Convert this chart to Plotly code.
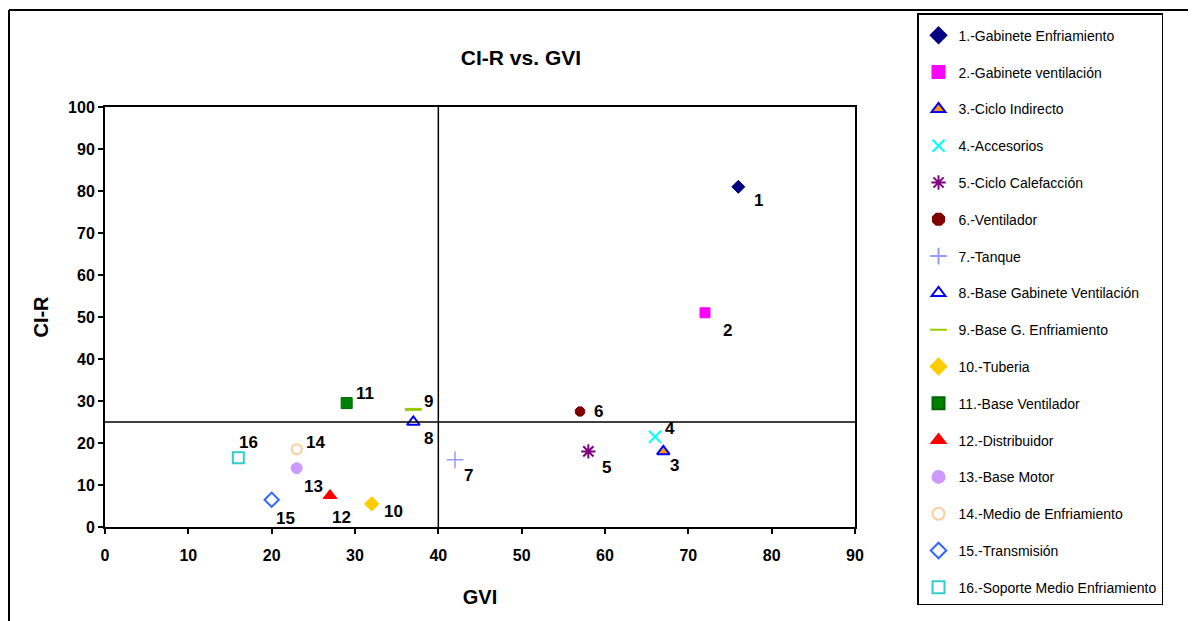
import plotly.graph_objects as go

names = ["1.-Gabinete Enfriamiento", "2.-Gabinete ventilación", "3.-Ciclo Indirecto",
         "4.-Accesorios", "5.-Ciclo Calefacción", "6.-Ventilador", "7.-Tanque",
         "8.-Base Gabinete Ventilación", "9.-Base G. Enfriamiento", "10.-Tuberia",
         "11.-Base Ventilador", "12.-Distribuidor", "13.-Base Motor",
         "14.-Medio de Enfriamiento", "15.-Transmisión", "16.-Soporte Medio Enfriamiento"]
labels = [str(i) for i in range(1, 17)]
gvi = [76, 72, 67, 66, 58, 57, 42, 37, 37, 32, 29, 27, 23, 23, 20, 16]
cir = [81, 51, 18, 21.5, 18, 27.5, 16, 25, 28, 5.5, 29.5, 7.5, 14, 18.5, 6.5, 16.5]
gvi_ref = 40
cir_ref = 25
x_ticks = list(range(0, 91, 10))
y_ticks = list(range(0, 101, 10))

# styles (marker symbol, fill colour, line colour, size, line width)
styles = [
    ("diamond", "#000080", "#000080", 10, 1),
    ("square", "#FF00FF", "#FF00FF", 10, 1),
    ("triangle-up", "#FF9900", "#0000FF", 11, 2),
    ("x-thin-open", "#00FFFF", "#00FFFF", 12, 2),
    ("asterisk-open", "#800080", "#800080", 12, 2),
    ("octagon", "#800000", "#800000", 10, 1),
    ("cross-thin-open", "#9999FF", "#9999FF", 12, 1.5),
    ("triangle-up-open", "#0000FF", "#0000FF", 11, 2),
    ("line-ew-open", "#99CC00", "#99CC00", 12, 3),
    ("diamond", "#FFCC00", "#FFCC00", 11, 1),
    ("square", "#008000", "#006600", 11, 1),
    ("triangle-up", "#FF0000", "#FF0000", 12, 1),
    ("circle", "#CC99FF", "#CC99FF", 11, 1),
    ("circle-open", "#FFCC99", "#FFCC99", 10, 2),
    ("diamond-open", "#3366FF", "#3366FF", 11, 2),
    ("square-open", "#33CCCC", "#33CCCC", 11, 2),
]
# label pixel offsets
offsets = [(20, -14), (22, -18), (11, -14), (15, 8), (18, -16), (18, 0), (13, -16),
           (15, -16), (15, 8), (22, -8), (18, 10), (11, -22), (17, -18), (19, 7),
           (14, -19), (10, 15)]

FONT = "Liberation Sans, Arial, sans-serif"

fig = go.Figure()
for i in range(len(names)):
    sym, fill, line, size, lw = styles[i]
    fig.add_trace(go.Scatter(
        x=[gvi[i]], y=[cir[i]], mode="markers", name=names[i],
        legendgroup=names[i],
        marker=dict(symbol=sym, color=fill, size=size, line=dict(color=line, width=lw)),
        cliponaxis=False,
    ))

annotations = []
for i in range(len(names)):
    dx, dy = offsets[i]
    annotations.append(dict(x=gvi[i], y=cir[i], xref="x", yref="y", text="<b>%s</b>" % labels[i],
                            showarrow=False, xshift=dx, yshift=dy,
                            font=dict(family=FONT, size=17, color="black")))

shapes = [
    dict(type="line", xref="x", yref="paper", x0=gvi_ref, x1=gvi_ref, y0=0, y1=1,
         line=dict(color="black", width=1.5)),
    dict(type="line", xref="paper", yref="y", x0=0, x1=1, y0=cir_ref, y1=cir_ref,
         line=dict(color="black", width=1.5)),
    # outer chart frame
    dict(type="line", xref="paper", yref="paper", x0=-0.128, x1=1.47, y0=1.231, y1=1.231,
         line=dict(color="black", width=2)),
    dict(type="line", xref="paper", yref="paper", x0=-0.128, x1=-0.128, y0=1.231, y1=-0.25,
         line=dict(color="black", width=2)),
]

fig.update_layout(
    template="none",
    width=1196, height=621,
    margin=dict(l=97, r=349, t=99, b=102, autoexpand=False),
    paper_bgcolor="white", plot_bgcolor="white",
    font=dict(family=FONT, color="black"),
    title=dict(text="<b>CI-R vs. GVI</b>", x=0.4289, xref="container", y=0.9195, yref="container",
               xanchor="center", yanchor="middle",
               font=dict(family=FONT, size=21, color="black")),
    showlegend=True,
    legend=dict(x=1.0827, y=1.2238, xanchor="left", yanchor="top",
                bgcolor="white", bordercolor="black", borderwidth=1.5,
                font=dict(family=FONT, size=14, color="black"),
                title=dict(text=" ", font=dict(size=4)),
                tracegroupgap=15.6, itemsizing="constant", itemwidth=30,
                maxheight=610),
    annotations=annotations,
    shapes=shapes,
    xaxis=dict(range=[0, 90], tickvals=x_ticks, showgrid=False, zeroline=False,
               automargin=False,
               showline=True, linecolor="black", linewidth=2, mirror=True,
               ticks="outside", ticklen=5, tickwidth=1.5, tickcolor="black",
               ticklabelstandoff=8,
               tickfont=dict(family=FONT, size=16, color="black", weight="bold"),
               title=dict(text="<b>GVI</b>", standoff=27,
                          font=dict(family=FONT, size=20, color="black"))),
    yaxis=dict(range=[0, 100], tickvals=y_ticks, showgrid=False, zeroline=False,
               automargin=False,
               showline=True, linecolor="black", linewidth=2, mirror=True,
               ticks="outside", ticklen=5, tickwidth=1.5, tickcolor="black",
               tickfont=dict(family=FONT, size=16, color="black", weight="bold"),
               title=dict(text="<b>CI-R</b>", standoff=14,
                          font=dict(family=FONT, size=20, color="black"))),
)

fig.write_html("out.html")
